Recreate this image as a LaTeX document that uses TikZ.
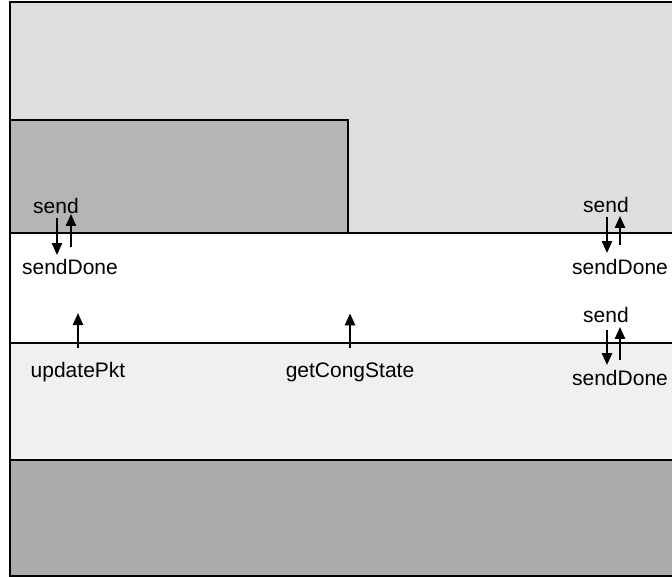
\documentclass[tikz,border=0pt]{standalone}
\usepackage{fontspec}
\setmainfont{Liberation Sans}
\usetikzlibrary{arrows.meta,positioning}

\definecolor{topband}{gray}{0.87}
\definecolor{boxband}{gray}{0.71}
\definecolor{lowband}{gray}{0.94}
\definecolor{baseband}{gray}{0.67}

\begin{document}
\begin{tikzpicture}[x=1pt,y=-1pt,every node/.style={inner sep=0pt,font=\fontsize{21}{24}\selectfont},
    call/.style={-{Triangle[length=12pt,width=10pt]},line width=2.4pt},
    edge/.style={line width=1.6pt}]
      \useasboundingbox (0,0) rectangle (672,577);
      % layers
      \fill[topband] (10,2) rectangle (672,233);
      \fill[boxband] (10,120) rectangle (348,233);
      \fill[white] (10,233) rectangle (672,343);
      \fill[lowband] (10,343) rectangle (672,460);
      \fill[baseband] (10,460) rectangle (672,576);
      \draw[edge] (10,120) -- (348,120) -- (348,233);
      \draw[edge] (10,233) -- (674,233);
      \draw[edge] (10,343) -- (674,343);
      \draw[edge] (10,460) -- (674,460);
      \draw[edge] (674,2) -- (10,2) -- (10,576) -- (674,576);
      % interface labels
      \node (sendA) at (56,206) {send};
      \node (doneA) at (70,267) {sendDone};
      \node (sendB) at (606,205) {send};
      \node (doneB) at (620,267) {sendDone};
      \node (sendC) at (606,315) {send};
      \node (doneC) at (620,378) {sendDone};
      \node (upd) at (78,372) {updatePkt};
      \node (cong) at (350,372) {getCongState};
      % calls
      \draw[call,shorten <=4pt,shorten >=4pt] ([xshift=1pt]sendA.south) -- ([xshift=1pt]sendA.south |- doneA.north);
      \draw[call,shorten <=12pt] ([xshift=15pt]sendA.south |- doneA.north) -- ([xshift=15pt]sendA.south);
      \draw[call,shorten <=4pt,shorten >=6pt] ([xshift=1pt]sendB.south) -- ([xshift=1pt]sendB.south |- doneB.north);
      \draw[call,shorten <=14pt,shorten >=3pt] ([xshift=14pt]sendB.south |- doneB.north) -- ([xshift=14pt]sendB.south);
      \draw[call,shorten <=7pt,shorten >=5pt] ([xshift=1pt]sendC.south) -- ([xshift=1pt]sendC.south |- doneC.north);
      \draw[call,shorten <=10pt,shorten >=4pt] ([xshift=14pt]sendC.south |- doneC.north) -- ([xshift=14pt]sendC.south);
      \draw[call,shorten <=14pt] (upd.north) -- ([yshift=49pt]upd.north);
      \draw[call,shorten <=14pt] (cong.north) -- ([yshift=49pt]cong.north);
    \end{tikzpicture}
\end{document}
